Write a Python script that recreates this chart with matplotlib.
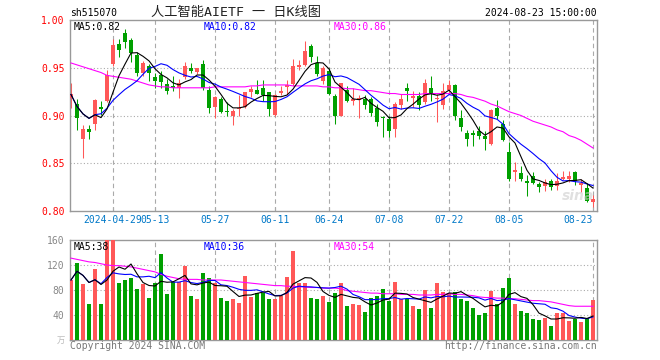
import numpy as np
import pandas as pd
import matplotlib
matplotlib.use('Agg')
import matplotlib.pyplot as plt

# trading days shown (Apr 18 .. Aug 23, 2024)
holidays = ['2024-05-01', '2024-05-02', '2024-05-03', '2024-06-10']
days = pd.bdate_range('2024-04-18', '2024-08-23')
days = days[~days.isin(pd.to_datetime(holidays))]

opens = [0.918, 0.912, 0.875, 0.886, 0.891, 0.909, 0.915, 0.954, 0.975, 0.986,
         0.979, 0.963, 0.944, 0.952, 0.940, 0.942, 0.933, 0.931, 0.929, 0.940,
         0.950, 0.946, 0.954, 0.927, 0.909, 0.917, 0.905, 0.900, 0.907, 0.909,
         0.925, 0.927, 0.929, 0.925, 0.901, 0.924, 0.930, 0.933, 0.951, 0.953,
         0.973, 0.955, 0.936, 0.947, 0.920, 0.900, 0.927, 0.915, 0.916, 0.917,
         0.917, 0.908, 0.898, 0.896, 0.886, 0.911, 0.929, 0.918, 0.920, 0.914,
         0.929, 0.917, 0.911, 0.927, 0.932, 0.897, 0.882, 0.881, 0.884, 0.879,
         0.870, 0.908, 0.891, 0.862, 0.841, 0.840, 0.831, 0.837, 0.828, 0.826,
         0.831, 0.826, 0.833, 0.834, 0.841, 0.827, 0.824, 0.809]
highs = [0.934, 0.917, 0.890, 0.890, 0.917, 0.915, 0.948, 0.980, 0.980, 0.991,
         0.981, 0.966, 0.957, 0.954, 0.945, 0.947, 0.938, 0.941, 0.938, 0.956,
         0.955, 0.950, 0.958, 0.931, 0.920, 0.919, 0.914, 0.907, 0.921, 0.925,
         0.931, 0.937, 0.937, 0.925, 0.922, 0.931, 0.937, 0.959, 0.958, 0.978,
         0.975, 0.962, 0.952, 0.950, 0.922, 0.934, 0.931, 0.929, 0.921, 0.921,
         0.919, 0.912, 0.900, 0.900, 0.914, 0.922, 0.934, 0.926, 0.925, 0.938,
         0.941, 0.922, 0.934, 0.937, 0.933, 0.906, 0.885, 0.885, 0.889, 0.884,
         0.907, 0.916, 0.895, 0.872, 0.851, 0.847, 0.838, 0.841, 0.830, 0.834,
         0.834, 0.840, 0.842, 0.842, 0.842, 0.834, 0.829, 0.817]
lows = [0.908, 0.885, 0.855, 0.875, 0.885, 0.901, 0.914, 0.952, 0.961, 0.971,
        0.956, 0.941, 0.941, 0.936, 0.929, 0.929, 0.923, 0.926, 0.918, 0.938,
        0.945, 0.943, 0.927, 0.903, 0.897, 0.903, 0.900, 0.890, 0.900, 0.908,
        0.919, 0.922, 0.915, 0.900, 0.900, 0.921, 0.922, 0.931, 0.948, 0.952,
        0.956, 0.941, 0.933, 0.921, 0.891, 0.900, 0.914, 0.911, 0.897, 0.907,
        0.899, 0.889, 0.878, 0.878, 0.878, 0.907, 0.915, 0.909, 0.906, 0.912,
        0.915, 0.893, 0.907, 0.923, 0.895, 0.884, 0.868, 0.868, 0.875, 0.864,
        0.869, 0.896, 0.873, 0.831, 0.831, 0.831, 0.816, 0.828, 0.820, 0.821,
        0.822, 0.822, 0.832, 0.830, 0.827, 0.820, 0.809, 0.804]
closes = [0.922, 0.897, 0.886, 0.883, 0.916, 0.907, 0.942, 0.974, 0.969, 0.977,
          0.965, 0.944, 0.955, 0.945, 0.936, 0.935, 0.926, 0.929, 0.934, 0.952,
          0.947, 0.950, 0.929, 0.908, 0.919, 0.904, 0.904, 0.905, 0.908, 0.925,
          0.928, 0.923, 0.921, 0.907, 0.921, 0.926, 0.932, 0.952, 0.953, 0.968,
          0.961, 0.943, 0.950, 0.922, 0.899, 0.934, 0.915, 0.917, 0.918, 0.911,
          0.903, 0.893, 0.897, 0.884, 0.912, 0.917, 0.926, 0.920, 0.911, 0.934,
          0.923, 0.918, 0.926, 0.932, 0.900, 0.888, 0.875, 0.880, 0.879, 0.875,
          0.906, 0.900, 0.874, 0.833, 0.843, 0.834, 0.829, 0.829, 0.825, 0.830,
          0.825, 0.831, 0.836, 0.837, 0.831, 0.829, 0.810, 0.813]
# 30-day average (needs history before the window)
ma30 = [0.955, 0.953, 0.951, 0.949, 0.947, 0.945, 0.942, 0.941, 0.940, 0.939,
        0.938, 0.936, 0.934, 0.932, 0.931, 0.930, 0.930, 0.929, 0.929, 0.929,
        0.929, 0.929, 0.929, 0.929, 0.930, 0.930, 0.930, 0.930, 0.930, 0.930,
        0.931, 0.931, 0.932, 0.932, 0.932, 0.932, 0.932, 0.931, 0.931, 0.931,
        0.931, 0.931, 0.930, 0.930, 0.929, 0.929, 0.928, 0.928, 0.927, 0.926,
        0.926, 0.925, 0.924, 0.923, 0.923, 0.922, 0.922, 0.922, 0.922, 0.923,
        0.923, 0.923, 0.923, 0.923, 0.923, 0.922, 0.920, 0.919, 0.917, 0.915,
        0.912, 0.910, 0.907, 0.904, 0.902, 0.900, 0.897, 0.894, 0.892, 0.890,
        0.888, 0.885, 0.883, 0.879, 0.877, 0.874, 0.870, 0.866]

# volume, 10k shares
volume = [96, 124, 90, 58, 114, 58, 160, 160, 92, 96,
          100, 82, 90, 68, 92, 138, 74, 93, 93, 119,
          70, 66, 108, 100, 92, 68, 62, 66, 60, 103,
          69, 75, 76, 66, 66, 71, 101, 143, 92, 92,
          68, 66, 70, 61, 76, 92, 54, 58, 56, 45,
          67, 70, 82, 63, 93, 65, 65, 54, 50, 80,
          52, 92, 77, 75, 77, 66, 63, 52, 40, 44,
          79, 58, 84, 100, 58, 47, 44, 34, 32, 36,
          22, 44, 44, 31, 33, 29, 35, 64]
vol_ma30 = [131, 129, 127, 125, 124, 122, 120, 119, 119, 118,
            117, 115, 113, 111, 109, 105, 102, 100, 98, 97,
            97, 97, 96, 96, 96, 96, 95, 94, 93, 92,
            91, 90, 89, 88, 87, 87, 86, 86, 85, 85,
            84, 84, 83, 83, 83, 82, 79, 78, 77, 76,
            75, 75, 74, 74, 74, 73, 73, 73, 72, 72,
            72, 73, 73, 74, 73, 73, 72, 71, 69, 68,
            68, 67, 67, 66, 66, 65, 64, 63, 63, 62,
            61, 59, 57, 55, 54, 54, 54, 54]

tick_dates = ['2024-04-29', '2024-05-13', '2024-05-27', '2024-06-11', '2024-06-24',
              '2024-07-08', '2024-07-22', '2024-08-05', '2024-08-23']
tick_labels = ['2024-04-29', '05-13', '05-27', '06-11', '06-24',
               '07-08', '07-22', '08-05', '08-23']

RED = '#ff5858'
GREEN = '#00a000'
GRID = '#aaaaaa'
FRAME = '#999999'
MONO = ['DejaVu Sans Mono', 'Noto Sans CJK SC']

W, H = 660, 360
o = np.array(opens); c = np.array(closes)
hi = np.array(highs); lo = np.array(lows)
v = np.array(volume)
x = np.arange(len(days))
up = c >= o
colors = np.where(up, RED, GREEN)
ma5 = pd.Series(c).rolling(5, min_periods=1).mean()
ma10 = pd.Series(c).rolling(10, min_periods=1).mean()
vma5 = pd.Series(v).rolling(5, min_periods=1).mean()
vma10 = pd.Series(v).rolling(10, min_periods=1).mean()
tick_idx = [days.get_loc(pd.Timestamp(d)) for d in tick_dates]

fig = plt.figure(figsize=(W / 100, H / 100), dpi=100)


def px_axes(l, t, r, b):
    return fig.add_axes([l / W, 1 - b / H, (r - l) / W, (b - t) / H])


ax = px_axes(70, 20, 597, 211)
axv = px_axes(70, 240, 597, 340)
xlim = (-1 / 6, len(x) - 1 + 4 / 6)

# price panel
ax.vlines(x, lo, hi, colors=colors, linewidth=0.75, zorder=2)
body = np.maximum(np.abs(c - o), 0.0012)
ax.bar(x, body, bottom=np.minimum(o, c), width=0.8, color=colors, zorder=3)
ax.plot(x, ma30, color='#ff00ff', linewidth=0.8, zorder=4)
ax.plot(x, ma10, color='#0000ff', linewidth=0.8, zorder=4)
ax.plot(x, ma5, color='black', linewidth=0.8, zorder=4)
ax.set_ylim(0.80, 1.00)
ax.set_yticks([0.80, 0.85, 0.90, 0.95, 1.00])
ax.set_yticklabels(['%.2f' % t for t in [0.80, 0.85, 0.90, 0.95, 1.00]],
                   color='red', family=MONO, fontsize=7)
for t in [0.85, 0.90, 0.95]:
    ax.axhline(t, color=GRID, linestyle=(0, (1, 2)), linewidth=0.8, zorder=1)

# volume panel
axv.bar(x, v, width=0.8, color=colors, zorder=3)
axv.plot(x, vol_ma30, color='#ff00ff', linewidth=0.8, zorder=4)
axv.plot(x, vma10, color='#0000ff', linewidth=0.8, zorder=4)
axv.plot(x, vma5, color='black', linewidth=0.8, zorder=4)
axv.set_ylim(0, 160)
axv.set_yticks([40, 80, 120, 160])
axv.set_yticklabels(['40', '80', '120', '160'], color='#888888', family=MONO, fontsize=7)
for t in [40, 80, 120]:
    axv.axhline(t, color=GRID, linestyle=(0, (1, 2)), linewidth=0.8, zorder=1)

for a in (ax, axv):
    a.set_xlim(*xlim)
    for s in a.spines.values():
        s.set_color(FRAME)
        s.set_linewidth(1.0)
    for i in tick_idx:
        a.axvline(i, color=GRID, linestyle=(0, (4, 3)), linewidth=0.8, zorder=1)
    a.tick_params(axis='y', length=0, pad=4)
    a.set_axisbelow(True)

ax.set_xticks(tick_idx)
ax.set_xticklabels([])
ax.tick_params(axis='x', direction='in', length=3, color=FRAME)
axv.set_xticks([])

for i, lab in zip(tick_idx, tick_labels):
    ha = 'right' if i == tick_idx[-1] else 'center'
    ax.text(i, -0.048, lab, transform=ax.get_xaxis_transform(), ha=ha, va='center',
            color='#0078c8', family=MONO, fontsize=7)


def ftext(px, py, s, **kw):
    fig.text(px / W, 1 - py / H, s, **kw)


# header
ftext(70, 13, 'sh515070', ha='left', va='center', family=MONO, fontsize=7)
ftext(151, 12, '人工智能AIETF 一 日K线图', ha='left', va='center', family=MONO,
      fontsize=9.5, color='#222222')
ftext(597, 13, '2024-08-23 15:00:00', ha='right', va='center', family=MONO, fontsize=7)

# moving-average legends
ftext(74, 27, 'MA5:0.82', ha='left', va='center', family=MONO, fontsize=7, color='black')
ftext(204, 27, 'MA10:0.82', ha='left', va='center', family=MONO, fontsize=7, color='#0000ff')
ftext(334, 27, 'MA30:0.86', ha='left', va='center', family=MONO, fontsize=7, color='#ff00ff')
ftext(74, 247, 'MA5:38', ha='left', va='center', family=MONO, fontsize=7, color='black')
ftext(204, 247, 'MA10:36', ha='left', va='center', family=MONO, fontsize=7, color='#0000ff')
ftext(334, 247, 'MA30:54', ha='left', va='center', family=MONO, fontsize=7, color='#ff00ff')

# footer
ftext(61, 340, '万', ha='center', va='center', family=['Noto Sans CJK SC'], fontsize=6,
      color='#bbbbbb')
ftext(70, 346, 'Copyright 2024 SINA.COM', ha='left', va='center', family=MONO,
      fontsize=7, color='#777777')
ftext(597, 346, 'http://finance.sina.com.cn', ha='right', va='center', family=MONO,
      fontsize=7, color='#777777')
ftext(578, 196, 'sina', ha='center', va='center', fontsize=10, fontweight='bold',
      style='italic', color='#cccccc', alpha=0.6)

fig.savefig('out.png', dpi=100)
